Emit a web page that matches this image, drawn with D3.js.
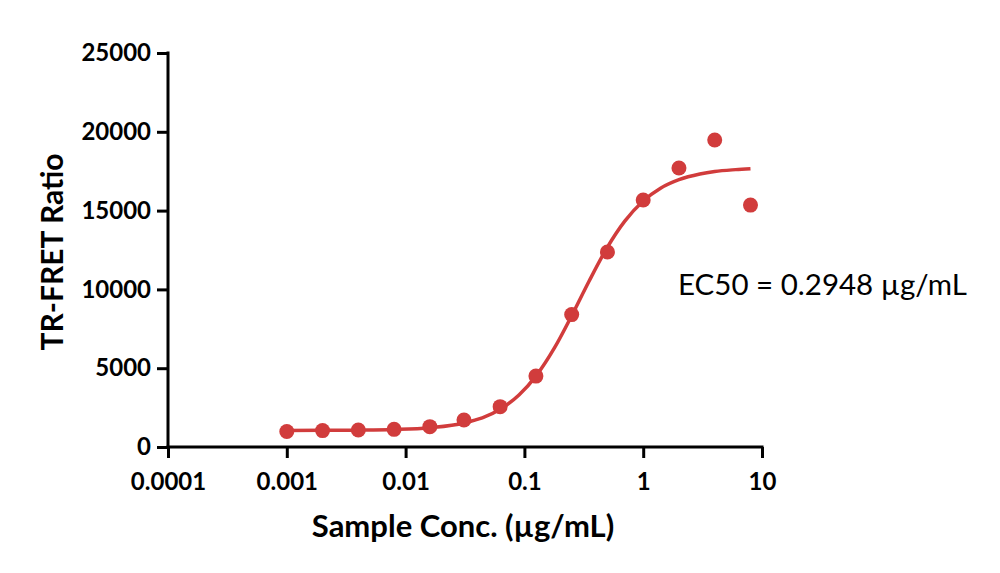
<!DOCTYPE html>
<html>
<head>
<meta charset="utf-8">
<script src="https://cdn.jsdelivr.net/npm/d3@7"></script>
<style>
  body { margin: 0; background: #fff; }
  svg { display: block; }
</style>
</head>
<body>
<svg id="chart" width="1000" height="573"></svg>
<script>
// measured points
const conc = [0.001, 0.002, 0.004, 0.008, 0.016, 0.031, 0.0625, 0.125, 0.25, 0.5, 1, 2, 4, 8];
const ratio = [980, 1040, 1080, 1120, 1290, 1710, 2560, 4500, 8400, 12370, 15670, 17700, 19480, 15350];

// fitted curve
const fitConc = [0.001, 0.002, 0.004, 0.008, 0.016, 0.031, 0.0625, 0.09, 0.125, 0.18, 0.25, 0.35, 0.5, 0.7, 1, 1.4, 2, 3, 4, 6, 8];
const fitRatio = [1050, 1057, 1070, 1108, 1220, 1520, 2390, 3300, 4500, 6320, 8330, 10520, 12680, 14330, 15610, 16420, 16960, 17320, 17480, 17600, 17660];

const xTicks = [0.0001, 0.001, 0.01, 0.1, 1, 10];
const xTickLabels = ["0.0001", "0.001", "0.01", "0.1", "1", "10"];
const yTicks = [0, 5000, 10000, 15000, 20000, 25000];

const RED = "#d13c3c";
const FONT = "Lato, 'Open Sans', sans-serif";

const MARGIN = { TOP: 53, LEFT: 168, RIGHT: 762, BOTTOM: 447 };

const svg = d3.select("#chart");

const x = d3.scaleLog()
    .domain([0.0001, 10])
    .range([MARGIN.LEFT, MARGIN.RIGHT]);

const y = d3.scaleLinear()
    .domain([0, 25000])
    .range([MARGIN.BOTTOM, MARGIN.TOP]);

// axes
const xAxis = svg.append("g")
    .attr("transform", `translate(0, ${MARGIN.BOTTOM})`)
    .call(d3.axisBottom(x)
        .tickValues(xTicks)
        .tickFormat((d, i) => xTickLabels[i])
        .tickSize(11)
        .tickSizeOuter(0)
        .tickPadding(15));

const yAxis = svg.append("g")
    .attr("transform", `translate(${MARGIN.LEFT}, 0)`)
    .call(d3.axisLeft(y)
        .tickValues(yTicks)
        .tickFormat(d3.format("d"))
        .tickSize(11)
        .tickSizeOuter(0)
        .tickPadding(6));

[xAxis, yAxis].forEach(g => {
    g.selectAll("path.domain").attr("stroke", "#000").attr("stroke-width", 3);
    g.selectAll(".tick line").attr("stroke", "#000").attr("stroke-width", 3);
    g.selectAll(".tick text")
        .attr("fill", "#000")
        .style("font-family", FONT)
        .style("font-weight", "bold")
        .style("font-size", "24px");
});
// extend the axis lines so they meet at the corner
xAxis.select("path.domain").attr("d", `M${MARGIN.LEFT - 1.5},0H${MARGIN.RIGHT + 1.5}`);
yAxis.select("path.domain").attr("d", `M0,${MARGIN.TOP - 1.5}V${MARGIN.BOTTOM + 1.5}`);

// fitted curve
const line = d3.line()
    .x((d, i) => x(fitConc[i]))
    .y(d => y(d))
    .curve(d3.curveMonotoneX);

svg.append("path")
    .datum(fitRatio)
    .attr("fill", "none")
    .attr("stroke", RED)
    .attr("stroke-width", 3.5)
    .attr("d", line);

// data points
svg.append("g")
    .selectAll("circle")
    .data(ratio)
    .join("circle")
    .attr("cx", (d, i) => x(conc[i]))
    .attr("cy", d => y(d))
    .attr("r", 7.5)
    .attr("fill", RED);

// axis titles
svg.append("text")
    .attr("transform", `translate(63, 252) rotate(-90)`)
    .attr("text-anchor", "middle")
    .style("font-family", FONT)
    .style("font-weight", "bold")
    .style("font-size", "30px")
    .text("TR-FRET Ratio");

svg.append("text")
    .attr("x", 463)
    .attr("y", 537)
    .attr("text-anchor", "middle")
    .style("font-family", FONT)
    .style("font-weight", "bold")
    .style("font-size", "31px")
    .text("Sample Conc. (µg/mL)");

// EC50 annotation
svg.append("text")
    .attr("x", 678)
    .attr("y", 295)
    .style("font-family", FONT)
    .style("font-size", "29.5px")
    .text("EC50 = 0.2948 µg/mL");
</script>
</body>
</html>
